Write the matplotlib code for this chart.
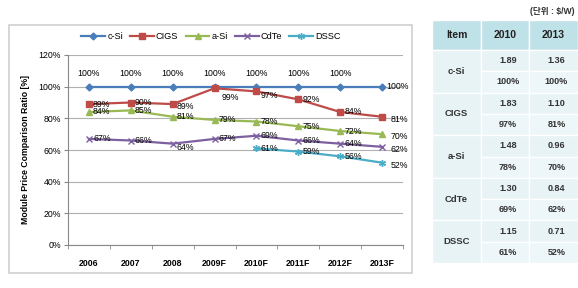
import matplotlib
matplotlib.use("Agg")
import matplotlib.pyplot as plt
from matplotlib.patches import Rectangle
import numpy as np

plt.rcParams['font.family'] = ['Liberation Sans', 'Noto Sans CJK KR', 'DejaVu Sans']

years = ["2006", "2007", "2008", "2009F", "2010F", "2011F", "2012F", "2013F"]
csi = [100, 100, 100, 100, 100, 100, 100, 100]
cigs = [89, 90, 89, 99, 97, 92, 84, 81]
asi = [84, 85, 81, 79, 78, 75, 72, 70]
cdte = [67, 66, 64, 67, 69, 66, 64, 62]
dssc = [np.nan, np.nan, np.nan, np.nan, 61, 59, 56, 52]

table_items = ["c-Si", "CIGS", "a-Si", "CdTe", "DSSC"]
price_2010 = ["1.89", "1.83", "1.48", "1.30", "1.15"]
price_2013 = ["1.36", "1.10", "0.96", "0.84", "0.71"]
ratio_2010 = ["100%", "97%", "78%", "69%", "61%"]
ratio_2013 = ["100%", "81%", "70%", "62%", "52%"]

W, H = 578, 288
fig = plt.figure(figsize=(W / 100, H / 100), dpi=100)

def fx(px):
    return px / W

def fy(py):
    return 1 - py / H

# chart frame
fig.patches.append(Rectangle((fx(9), fy(273)), fx(412) - fx(9), fy(25) - fy(273),
                             transform=fig.transFigure, fill=False, ec="#d0d0d0", lw=1.2))

ax = fig.add_axes([fx(68), fy(245), fx(403) - fx(68), fy(55) - fy(245)])
x = np.arange(len(years))

series = [
    ("c-Si", csi, "#4a7ebb", "D", 3.5),
    ("CIGS", cigs, "#be4b48", "s", 4.5),
    ("a-Si", asi, "#98b954", "^", 4.5),
    ("CdTe", cdte, "#7d60a0", "x", 4.5),
    ("DSSC", dssc, "#4bacc6", (6, 2, 0), 5),
]
for name, vals, col, mk, ms in series:
    ax.plot(x, vals, color=col, marker=mk, markersize=ms, lw=1.6, label=name,
            markeredgecolor=col, markeredgewidth=1.0)

fs = 6.3
# labels
for i, v in enumerate(csi):
    if i < 7:
        ax.annotate(f"{v}%", (i, v), xytext=(0, 6), textcoords="offset points",
                    ha="center", va="bottom", fontsize=fs)
    else:
        ax.annotate(f"{v}%", (i, v), xytext=(3, 0), textcoords="offset points",
                    ha="left", va="center", fontsize=fs)

def lab(vals, offsets):
    for i, v in enumerate(vals):
        if np.isnan(v):
            continue
        dx, dy = offsets.get(i, (3, 0))
        ax.annotate(f"{int(v)}%", (i, v), xytext=(dx, dy), textcoords="offset points",
                    ha="left", va="center", fontsize=fs)

lab(cigs, {2: (3, -2), 3: (5, -7), 4: (3, -3), 5: (3, 0), 7: (6, -2)})
lab(asi, {0: (3, 0), 7: (6, -2)})
lab(cdte, {2: (3, -3), 7: (6, -2)})
lab(dssc, {7: (6, -2)})

ax.set_xlim(-0.5, len(years) - 0.5)
ax.set_ylim(0, 120)
ax.set_yticks(np.arange(0, 121, 20))
ax.set_yticklabels([f"{t}%" for t in range(0, 121, 20)], fontsize=fs)
ax.set_xticks(x)
ax.set_xticklabels(years, fontsize=fs, fontweight="bold")
ax.set_xticks(np.arange(-0.5, len(years), 1), minor=True)
ax.tick_params(axis="x", which="major", length=0, pad=10)
ax.tick_params(axis="x", which="minor", length=3, color="#888888")
ax.tick_params(axis="y", length=3, color="#888888", pad=2)
ax.grid(axis="y", color="#b0b0b0", lw=0.8)
ax.set_axisbelow(True)
for s in ["top", "right"]:
    ax.spines[s].set_visible(False)
for s in ["left", "bottom"]:
    ax.spines[s].set_color("#888888")
ax.set_ylabel("Module Price Comparison Ratio [%]", fontsize=fs, fontweight="bold", labelpad=6)

ax.legend(loc="center", bbox_to_anchor=(0.427, 1.095), ncol=5, frameon=False, fontsize=fs + 0.3,
          handlelength=2.6, columnspacing=0.8, handletextpad=0.2)

# table
tx = [432, 481, 529, 578]
ty0, ty1 = 20, 50
rh = 21.3
hdr_col = "#bfe1e8"
body_col = "#e8f3f5"
body_col2 = "#edf6f8"

def rect(x0, y0, x1, y1, col):
    fig.patches.append(Rectangle((fx(x0), fy(y1)), fx(x1) - fx(x0), fy(y0) - fy(y1),
                                 transform=fig.transFigure, fc=col, ec="white", lw=1.0))

for j, htxt in enumerate(["Item", "2010", "2013"]):
    rect(tx[j], ty0, tx[j + 1], ty1, hdr_col)
    fig.text(fx((tx[j] + tx[j + 1]) / 2), fy((ty0 + ty1) / 2), htxt, ha="center", va="center",
             fontsize=7.5, fontweight="bold", color="#222222")

for k, item in enumerate(table_items):
    ya = ty1 + 2 * k * rh
    yb = ya + rh
    yc = yb + rh
    rect(tx[0], ya, tx[1], yc, body_col)
    fig.text(fx((tx[0] + tx[1]) / 2), fy((ya + yc) / 2), item, ha="center", va="center",
             fontsize=6.8, fontweight="bold", color="#333333")
    rect(tx[1], ya, tx[2], yb, body_col)
    rect(tx[2], ya, tx[3], yb, body_col)
    rect(tx[1], yb, tx[2], yc, body_col2)
    rect(tx[2], yb, tx[3], yc, body_col2)
    c1 = (tx[1] + tx[2]) / 2 + 3
    c2 = (tx[2] + tx[3]) / 2 + 3
    for cx, txt, yy in [(c1, price_2010[k], (ya + yb) / 2), (c2, price_2013[k], (ya + yb) / 2),
                        (c1, ratio_2010[k], (yb + yc) / 2), (c2, ratio_2013[k], (yb + yc) / 2)]:
        fig.text(fx(cx), fy(yy), txt, ha="center", va="center",
                 fontsize=6.5, fontweight="bold", color="#333333")

fig.text(fx(575), fy(11), "(단위 : $/W)", ha="right", va="center", fontsize=6.2,
         fontweight="bold", color="#333333")

fig.savefig("out.png", dpi=100)
